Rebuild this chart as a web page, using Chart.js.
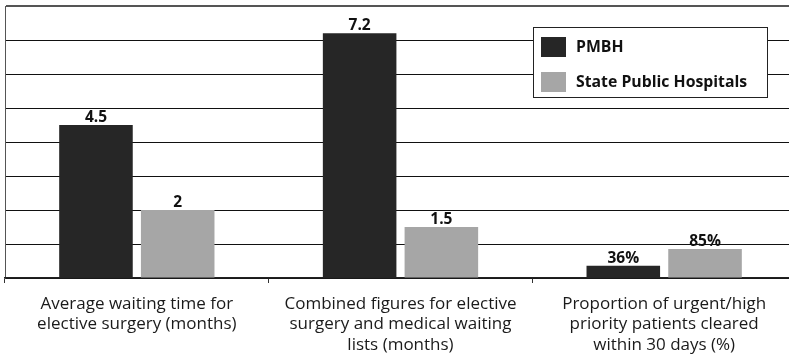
<!DOCTYPE html>
<html>
<head>
<meta charset="utf-8">
<script src="https://cdn.jsdelivr.net/npm/chart.js@4/dist/chart.umd.min.js"></script>
<style>
  html, body { margin: 0; padding: 0; background: #fff; overflow: hidden; }
  /* the plot runs on a little past the right edge of the visible frame */
  #wrap { width: 789px; height: 357px; overflow: hidden; }
</style>
</head>
<body>
<div id="wrap"><canvas id="c" width="796" height="357"></canvas></div>
<script>
// Categories (wrapped onto lines as shown under the axis)
const categories = [
  ['Average waiting time for', 'elective surgery (months)'],
  ['Combined figures for elective', 'surgery and medical waiting', 'lists (months)'],
  ['Proportion of urgent/high', 'priority patients cleared', 'within 30 days (%)']
];
// How each category's value is written above its bar
const valueUnits = ['', '', '%'];

const seriesNames = ['PMBH', 'State Public Hospitals'];
const pmbhValues = [4.5, 7.2, 0.36];
const stateValues = [2, 1.5, 0.85];

const seriesColors = ['#262626', '#a6a6a6'];

function formatValue(v, unit) {
  return unit === '%' ? Math.round(v * 100) + '%' : String(v);
}

const FONT = '"Open Sans", "DejaVu Sans", sans-serif';

// Value labels above each bar
const barValueLabels = {
  id: 'barValueLabels',
  afterDatasetsDraw(chart) {
    const ctx = chart.ctx;
    ctx.save();
    ctx.font = 'bold 15.5px ' + FONT;
    ctx.fillStyle = '#111';
    ctx.textAlign = 'center';
    ctx.textBaseline = 'alphabetic';
    chart.data.datasets.forEach((ds, di) => {
      chart.getDatasetMeta(di).data.forEach((bar, i) => {
        ctx.fillText(formatValue(ds.data[i], valueUnits[i]), bar.x, bar.y - 3);
      });
    });
    ctx.restore();
  }
};

// Boxed legend in the upper right of the plot
const boxedLegend = {
  id: 'boxedLegend',
  afterDraw(chart) {
    const ctx = chart.ctx;
    const x = 533.5, y = 27.5, w = 234, h = 70;
    ctx.save();
    ctx.fillStyle = '#fff';
    ctx.fillRect(x, y, w, h);
    ctx.strokeStyle = '#222';
    ctx.lineWidth = 1;
    ctx.strokeRect(x, y, w, h);
    ctx.font = 'bold 15.8px ' + FONT;
    ctx.textBaseline = 'middle';
    ctx.textAlign = 'left';
    chart.data.datasets.forEach((ds, i) => {
      const rowY = 37 + i * 35;
      ctx.fillStyle = ds.backgroundColor;
      ctx.fillRect(541, rowY, 25, 20);
      ctx.fillStyle = '#111';
      ctx.fillText(ds.label, 576, rowY + 10);
    });
    ctx.restore();
  }
};

new Chart(document.getElementById('c'), {
  type: 'bar',
  data: {
    labels: categories,
    datasets: [
      { label: seriesNames[0], data: pmbhValues, backgroundColor: seriesColors[0] },
      { label: seriesNames[1], data: stateValues, backgroundColor: seriesColors[1] }
    ]
  },
  options: {
    responsive: false,
    animation: false,
    devicePixelRatio: 1,
    layout: { padding: { left: 5, right: 0, top: 6, bottom: 0 } },
    datasets: { bar: { categoryPercentage: 0.62, barPercentage: 0.9 } },
    plugins: { legend: { display: false }, tooltip: { enabled: false } },
    scales: {
      y: {
        min: 0, max: 8,
        ticks: { display: false, stepSize: 1 },
        grid: {
          drawTicks: false,
          color: c => c.tick.value === 8 ? '#555' : '#111',
          lineWidth: c => c.tick.value === 8 ? 2 : 1
        },
        border: { display: true, color: '#555', width: 1 }
      },
      x: {
        grid: { offset: true, drawOnChartArea: false, tickLength: 5, color: '#333' },
        border: { display: true, color: '#222', width: 1.5 },
        ticks: {
          font: { family: FONT, size: 17 },
          color: '#1a1a1a',
          padding: 11,
          maxRotation: 0,
          autoSkip: false
        },
        afterFit(scale) { scale.height = 79; }
      }
    }
  },
  plugins: [barValueLabels, boxedLegend]
});
</script>
</body>
</html>
